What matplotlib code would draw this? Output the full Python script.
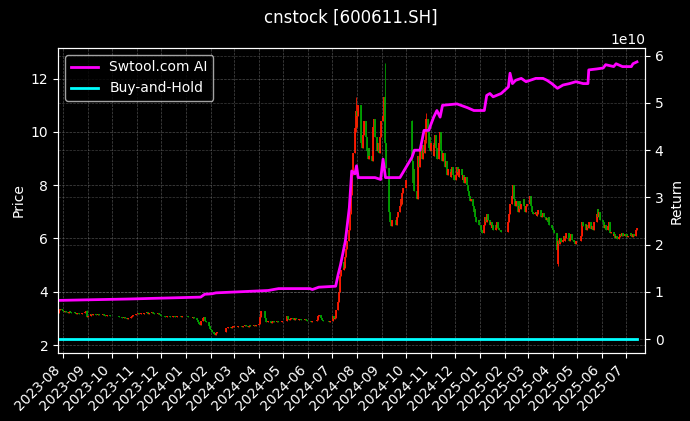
import numpy as np
import pandas as pd
import matplotlib
matplotlib.use("Agg")
import matplotlib.pyplot as plt
import matplotlib.dates as mdates

title = "cnstock [600611.SH]"
strategy_label = "Swtool.com AI"
bh_label = "Buy-and-Hold"

# ---- daily closes, by month ----
c_2023_07 = [3.22, 3.3, 3.35, 3.3]
c_2023_08 = [3.28, 3.25, 3.27, 3.24, 3.22, 3.25, 3.27, 3.23, 3.2, 3.22, 3.24, 3.2, 3.18, 3.2, 3.17, 3.15,
             3.18, 3.2, 3.22, 3.24, 3.28, 3.12, 3.05]
c_2023_09 = [3.1, 3.14, 3.16, 3.13, 3.15, 3.17, 3.14, 3.12, 3.15, 3.16, 3.13, 3.11, 3.13, 3.15, 3.12, 3.1,
             3.12, 3.14, 3.11, 3.1]
c_2023_10 = [3.08, 3.06, 3.07, 3.05, 3.03, 3.05, 3.02, 3.0, 2.98, 3.0, 3.03, 3.05, 3.08, 3.1, 3.13, 3.15, 3.17]
c_2023_11 = [3.18, 3.2, 3.17, 3.19, 3.22, 3.2, 3.18, 3.21, 3.23, 3.2, 3.17, 3.19, 3.22, 3.24, 3.21, 3.18,
             3.16, 3.18, 3.2, 3.17, 3.14, 3.12]
c_2023_12 = [3.1, 3.08, 3.1, 3.07, 3.05, 3.08, 3.1, 3.07, 3.05, 3.07, 3.09, 3.06, 3.04, 3.06, 3.08, 3.1,
             3.08, 3.06, 3.08, 3.1, 3.08]
c_2024_01 = [3.08, 3.06, 3.05, 3.07, 3.05, 3.03, 3.04, 3.02, 3.0, 2.95, 2.85, 2.78, 2.75, 2.9, 3.0, 3.05,
             2.98, 2.92, 2.85, 2.78, 2.7, 2.62]
c_2024_02 = [2.55, 2.48, 2.42, 2.38, 2.45, 2.5, 2.6, 2.65, 2.63, 2.66, 2.68, 2.65, 2.67, 2.7, 2.68]
c_2024_03 = [2.7, 2.72, 2.69, 2.71, 2.73, 2.7, 2.68, 2.7, 2.72, 2.74, 2.71, 2.69, 2.72, 2.74, 2.72, 2.7,
             2.73, 2.75, 2.72, 2.74, 2.76]
c_2024_04 = [2.78, 3.05, 3.28, 3.0, 2.88, 2.85, 2.87, 2.9, 2.86, 2.84, 2.87, 2.89, 2.86, 2.88, 2.9, 2.87,
             2.85, 2.88, 2.92, 2.9]
c_2024_05 = [3.08, 2.98, 2.95, 2.97, 3.0, 2.97, 2.95, 2.98, 3.0, 2.97, 2.94, 2.96, 2.98, 2.95, 2.93, 2.95,
             2.97, 2.94, 2.92, 2.9]
c_2024_06 = [2.9, 2.88, 2.9, 2.92, 2.89, 2.9, 2.95, 3.08, 3.12, 3.02, 2.95, 2.9, 2.92, 2.89, 2.9, 2.92,
             2.9, 2.88, 2.9]
c_2024_07 = [2.92, 3.1, 2.98, 3.02, 3.3, 3.63, 3.99, 4.39, 4.6, 4.83, 5.1, 4.9, 5.3, 5.6, 5.9, 6.3, 6.93,
             7.62, 8.38, 9.22, 10.14, 10.8, 10.2]
c_2024_08 = [10.6, 11.0, 10.3, 9.6, 9.4, 9.9, 10.4, 9.8, 9.3, 9.0, 9.4, 9.1, 8.9, 9.5, 10.2, 10.5, 9.8,
             9.3, 9.6, 9.2, 9.8, 10.4]
c_2024_09 = [10.6, 11.3, 10.9, 9.6, 8.64, 7.78, 7.0, 6.6, 6.45, 6.7, 6.5, 6.8, 7.0, 7.2, 7.5, 7.3, 7.7,
             7.9, 8.2]
c_2024_10 = [8.9, 8.1, 8.6, 7.8, 7.5, 8.3, 9.1, 8.7, 9.4, 9.0, 9.5, 9.2, 9.7, 10.5, 10.0, 9.4, 9.8, 9.3]
c_2024_11 = [9.6, 9.1, 9.5, 9.9, 9.4, 9.0, 9.6, 10.0, 9.3, 8.9, 9.2, 8.7, 8.9, 8.6, 8.4, 8.6, 8.3, 8.5,
             8.7, 8.4, 8.2]
c_2024_12 = [8.4, 8.7, 8.5, 8.3, 8.6, 8.4, 8.2, 8.4, 8.1, 8.3, 8.0, 7.8, 7.6, 7.4, 7.5, 7.2, 7.0, 7.1,
             6.8, 6.6, 6.7, 6.5]
c_2025_01 = [6.3, 6.2, 6.5, 6.8, 6.6, 6.9, 6.7, 6.5, 6.6, 6.4, 6.5, 6.3, 6.5, 6.4, 6.6, 6.4, 6.3, 6.25]
c_2025_02 = [6.6, 6.9, 7.3, 7.6, 8.0, 7.5, 7.2, 7.4, 7.0, 7.2, 7.4, 7.1, 7.3, 7.5, 7.2, 7.0, 7.2, 7.3]
c_2025_03 = [7.3, 7.6, 7.2, 7.0, 6.9, 6.95, 7.0, 6.85, 6.9, 7.05, 6.9, 6.8, 6.85, 6.95, 6.8, 6.7, 6.75,
             6.6, 6.8, 6.5, 6.4]
c_2025_04 = [6.35, 6.3, 6.2, 5.58, 5.9, 5.8, 6.0, 5.85, 5.95, 6.1, 5.9, 6.0, 6.2, 6.05, 5.9, 6.0, 6.15,
             5.95, 5.85, 5.8, 5.9]
c_2025_05 = [6.1, 6.4, 6.6, 6.45, 6.55, 6.3, 6.5, 6.4, 6.6, 6.35, 6.45, 6.3, 6.5, 6.6, 6.9, 7.1, 6.8, 7.0, 6.7]
c_2025_06 = [6.6, 6.4, 6.5, 6.3, 6.45, 6.6, 6.35, 6.2, 6.25, 6.1, 6.15, 6.0, 6.1, 5.98, 6.05, 6.15, 6.1,
             6.2, 6.1, 6.15]
c_2025_07 = [6.1, 6.15, 6.05, 6.1, 6.2, 6.12, 6.05, 6.15, 6.1, 6.3, 6.4]

month_keys = ["2023-07", "2023-08", "2023-09", "2023-10", "2023-11", "2023-12",
              "2024-01", "2024-02", "2024-03", "2024-04", "2024-05", "2024-06",
              "2024-07", "2024-08", "2024-09", "2024-10", "2024-11", "2024-12",
              "2025-01", "2025-02", "2025-03", "2025-04", "2025-05", "2025-06", "2025-07"]
month_closes = [c_2023_07, c_2023_08, c_2023_09, c_2023_10, c_2023_11, c_2023_12,
                c_2024_01, c_2024_02, c_2024_03, c_2024_04, c_2024_05, c_2024_06,
                c_2024_07, c_2024_08, c_2024_09, c_2024_10, c_2024_11, c_2024_12,
                c_2025_01, c_2025_02, c_2025_03, c_2025_04, c_2025_05, c_2025_06, c_2025_07]

first_open = 3.2

# exchange holidays (market closed)
holiday_starts = ["2023-09-29", "2023-10-02", "2024-01-01", "2024-02-09", "2024-04-04", "2024-05-01",
                  "2024-06-10", "2024-09-16", "2024-10-01", "2025-01-01", "2025-01-28", "2025-04-04",
                  "2025-05-01", "2025-06-02"]
holiday_ends = ["2023-09-29", "2023-10-06", "2024-01-01", "2024-02-16", "2024-04-05", "2024-05-03",
                "2024-06-10", "2024-09-17", "2024-10-07", "2025-01-01", "2025-02-04", "2025-04-04",
                "2025-05-05", "2025-06-02"]

# candles with visible gaps / long wicks
special_dates = ["2023-08-30", "2024-07-30", "2024-09-05", "2024-10-08", "2024-10-25", "2025-04-07", "2025-04-08"]
special_open = [3.28, 10.14, 10.9, 10.4, 9.7, 6.2, 5.05]
special_high = [3.3, 11.3, 12.6, 10.45, 10.7, 6.2, 5.95]
special_low = [3.05, 10.0, 9.3, 8.6, 9.6, 5.58, 4.95]

# strategy equity curve (right axis, units of 1e10)
ret_dates = ["2023-07-26", "2023-10-22", "2024-01-19", "2024-01-24", "2024-02-02", "2024-02-07",
             "2024-04-12", "2024-04-25", "2024-06-03", "2024-06-06", "2024-06-14", "2024-07-05",
             "2024-07-08", "2024-07-11", "2024-07-17", "2024-07-22", "2024-07-25", "2024-07-29",
             "2024-07-31", "2024-08-02", "2024-08-23", "2024-08-30", "2024-09-02", "2024-09-05",
             "2024-09-23", "2024-10-08", "2024-10-11", "2024-10-18", "2024-10-23", "2024-10-29",
             "2024-10-31", "2024-11-04", "2024-11-08", "2024-11-12", "2024-11-15", "2024-12-03",
             "2024-12-16", "2024-12-24", "2025-01-06", "2025-01-09", "2025-01-13", "2025-01-17",
             "2025-01-27", "2025-02-05", "2025-02-07", "2025-02-10", "2025-02-14", "2025-02-21",
             "2025-02-27", "2025-03-11", "2025-03-20", "2025-03-25", "2025-03-31", "2025-04-07",
             "2025-04-14", "2025-04-22", "2025-04-30", "2025-05-09", "2025-05-15", "2025-05-16",
             "2025-05-26", "2025-06-03", "2025-06-06", "2025-06-16", "2025-06-19", "2025-06-27",
             "2025-07-08", "2025-07-10", "2025-07-15"]
ret_values = [0.82, 0.85, 0.89, 0.95, 0.96, 0.98, 1.03, 1.07, 1.07, 1.05, 1.10, 1.12, 1.36, 1.57, 2.07,
              2.78, 3.56, 3.50, 3.67, 3.42, 3.42, 3.38, 3.81, 3.42, 3.42, 3.85, 4.00, 4.00, 4.42, 4.42,
              4.52, 4.70, 4.84, 4.70, 4.95, 4.98, 4.90, 4.84, 4.84, 5.16, 5.20, 5.13, 5.20, 5.34, 5.63,
              5.41, 5.48, 5.52, 5.45, 5.52, 5.52, 5.48, 5.41, 5.31, 5.38, 5.41, 5.45, 5.41, 5.41, 5.70,
              5.72, 5.74, 5.81, 5.77, 5.83, 5.77, 5.77, 5.83, 5.87]
ret_scale = 1e10

# ---- build trading calendar ----
bdays = pd.bdate_range("2023-07-26", "2025-07-15")
hol = pd.DatetimeIndex([])
for a, b in zip(holiday_starts, holiday_ends):
    hol = hol.append(pd.date_range(a, b))
bdays = bdays[~bdays.isin(hol)]
mstr = bdays.strftime("%Y-%m")

dates, closes = [], []
for key, vals in zip(month_keys, month_closes):
    md = bdays[mstr == key]
    if len(vals) == 1:
        idx = np.array([0])
    else:
        idx = np.round(np.linspace(0, len(md) - 1, len(vals))).astype(int)
    dates.extend(list(md[idx]))
    closes.extend(vals)
dates = pd.DatetimeIndex(dates)
closes = np.array(closes, dtype=float)
opens = np.concatenate([[first_open], closes[:-1]])
highs = np.maximum(opens, closes)
lows = np.minimum(opens, closes)
for d, o, h, l in zip(special_dates, special_open, special_high, special_low):
    m = dates == pd.Timestamp(d)
    opens[m] = o
    highs[m] = np.maximum(h, np.maximum(o, closes[m]))
    lows[m] = np.minimum(l, np.minimum(o, closes[m]))

up = closes >= opens
cols = np.where(up, "#ff1a00", "#00a000")

bh = closes / closes[0]

# ---- draw ----
plt.style.use("dark_background")
fig = plt.figure(figsize=(6.9, 4.21), dpi=100)
ax = fig.add_axes([0.0841, 0.1615, 0.8507, 0.7245])

ax.vlines(dates, lows, highs, colors=cols, linewidth=0.6)
ax.vlines(dates, np.minimum(opens, closes), np.maximum(opens, closes), colors=cols, linewidth=1.3)
ax.set_ylabel("Price")
ax.set_ylim(1.7, 13.15)
ax.set_xlim(pd.Timestamp("2023-07-26") - pd.Timedelta(hours=12), pd.Timestamp("2025-07-25"))
ax.grid(True, linestyle="--", linewidth=0.5, color="#888888", alpha=0.55)
ax.xaxis.set_major_locator(mdates.MonthLocator())
ax.xaxis.set_major_formatter(mdates.DateFormatter("%Y-%m"))
plt.setp(ax.get_xticklabels(), rotation=45, ha="right")

ax2 = ax.twinx()
ax2.plot(pd.to_datetime(ret_dates), np.array(ret_values) * ret_scale, color="magenta", linewidth=2,
         label=strategy_label)
ax2.plot(dates, bh, color="cyan", linewidth=2, label=bh_label)
ax2.set_ylabel("Return")
ax2.set_xlim(ax.get_xlim())
ax2.grid(True, axis="y", linestyle="--", linewidth=0.5, color="#888888", alpha=0.45)
ax2.legend(loc="upper left")

fig.suptitle(title, x=0.508, fontsize=12)
fig.savefig("out.png", dpi=100)
